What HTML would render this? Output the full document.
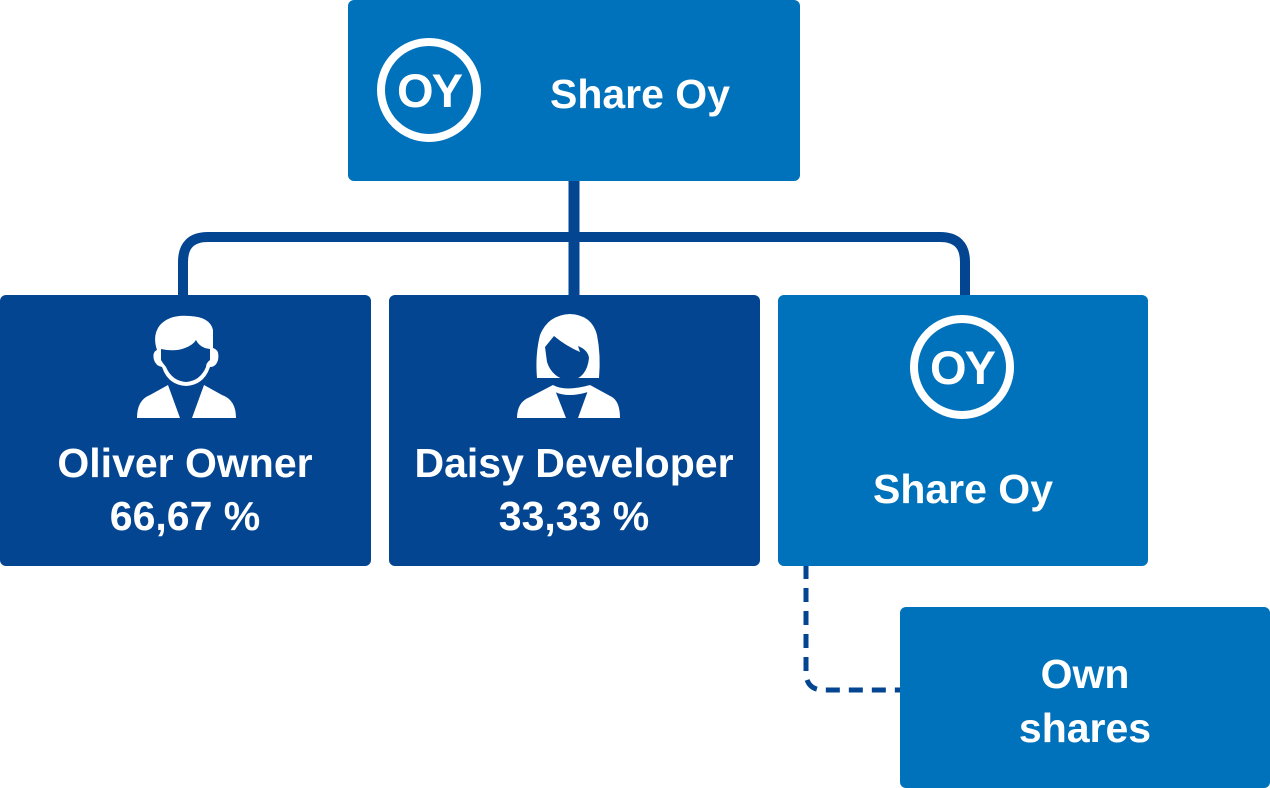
<!DOCTYPE html>
<html><head><meta charset="utf-8"><style>
html,body{margin:0;padding:0;background:#fff;width:1270px;height:788px;overflow:hidden}
svg text{font-family:"Liberation Sans",sans-serif;font-weight:bold;fill:#fff}
</style></head><body>
<svg width="1270" height="788" viewBox="0 0 1270 788" xmlns="http://www.w3.org/2000/svg">
<path d="M574 180 V295" stroke="#034591" stroke-width="11" fill="none"/>
<path d="M183 295 V262 Q183 237 208 237 H940 Q965 237 965 262 V295" stroke="#034591" stroke-width="10" fill="none"/>
<path d="M806 565 V672 Q806 690 824 690 H900" stroke="#034591" stroke-width="5" fill="none" stroke-dasharray="14,9"/>
<rect x="348" y="0" width="452" height="181" rx="6" fill="#0071bb"/>
<rect x="0" y="295" width="371" height="271" rx="6" fill="#034591"/>
<rect x="389" y="295" width="371" height="271" rx="6" fill="#034591"/>
<rect x="778" y="295" width="370" height="271" rx="6" fill="#0071bb"/>
<rect x="900" y="607" width="370" height="181" rx="6" fill="#0071bb"/>
<circle cx="429" cy="90" r="48" stroke="#fff" stroke-width="8" fill="none"/>
<text x="429" y="107" font-size="47" text-anchor="middle" letter-spacing="-2">OY</text>
<text x="640" y="108" font-size="41" text-anchor="middle">Share Oy</text>
<g fill="#fff">
<path d="M157 350 Q152 335 160 325 Q170 314 190 316 Q210 317 213 330 L213 348 Q220 350 218 360 Q216 367 210 367 Q204 385 186 386 Q168 385 162 367 Q156 366 154 360 Q152 352 157 350Z"/>
<path d="M137 418 Q137 400 150 395 L168 385 L180 418Z M192 418 L204 385 L222 395 Q236 400 236 418Z"/>
</g>
<path d="M161 349 Q175 352 185 348 Q193 345 196 340 Q200 348 210 349 L210 360 Q206 363 206 367 Q200 381 186 382 Q172 381 166 367 Q162 362 161 360Z" fill="#034591"/>
<g fill="#fff">
<path d="M537 378 Q535 355 540 335 Q548 315 570 314 Q592 315 597 335 Q601 355 599 378 Z"/>
<path d="M517 418 Q517 402 530 397 L553 385 L566 418Z M578 418 L590 385 L612 397 Q620 402 620 418Z"/>
<path d="M553 385 Q565 392 590 385 L588 392 Q568 398 555 392Z"/>
</g>
<path d="M545 347 L554 336 Q566 346 580 352 L578 346 Q588 350 589 358 Q587 378 570 381 Q552 378 547 362Z" fill="#034591"/>
<circle cx="962" cy="367" r="48" stroke="#fff" stroke-width="8" fill="none"/>
<text x="962" y="384" font-size="47" text-anchor="middle" letter-spacing="-2">OY</text>
<text x="185" y="477" font-size="41" text-anchor="middle">Oliver Owner</text>
<text x="185" y="530" font-size="41" text-anchor="middle">66,67 %</text>
<text x="574" y="477" font-size="41" text-anchor="middle">Daisy Developer</text>
<text x="574" y="530" font-size="41" text-anchor="middle">33,33 %</text>
<text x="963" y="503" font-size="41" text-anchor="middle">Share Oy</text>
<text x="1085" y="688" font-size="41" text-anchor="middle">Own</text>
<text x="1085" y="742" font-size="41" text-anchor="middle">shares</text>
</svg>
</body></html>
